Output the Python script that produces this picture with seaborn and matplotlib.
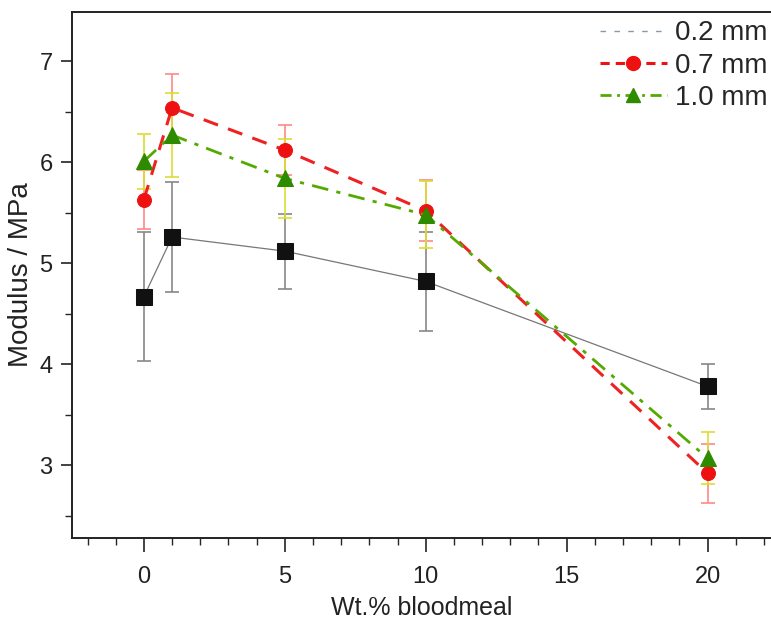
import numpy as np
import pandas as pd
import matplotlib
matplotlib.use("Agg")
import matplotlib.pyplot as plt
from matplotlib.lines import Line2D
from matplotlib.ticker import MultipleLocator
import seaborn as sns

wt = [0, 1, 5, 10, 20]
mod_02 = [4.67, 5.26, 5.12, 4.82, 3.78]
err_02 = [0.64, 0.54, 0.37, 0.49, 0.22]
mod_07 = [5.63, 6.54, 6.12, 5.52, 2.92]
err_07 = [0.29, 0.33, 0.25, 0.30, 0.29]
mod_10 = [6.01, 6.27, 5.84, 5.48, 3.07]
err_10 = [0.27, 0.42, 0.39, 0.33, 0.26]
labels = ["0.2 mm", "0.7 mm", "1.0 mm"]

sns.set_style("ticks")
plt.rcParams['font.family'] = ['Liberation Sans', 'DejaVu Sans']

fig = plt.figure(figsize=(7.71, 6.24), dpi=100)
ax = fig.add_axes([0.0934, 0.138, 0.9066, 0.843])

series = [
    (mod_02, err_02, "#111111", "#777777", "#888888", "s", "-", 0.9, 12),
    (mod_07, err_07, "#ee1111", "#ee2222", "#ff8888", "o", (0, (5, 3.5)), 2.2, 10),
    (mod_10, err_10, "#2e8b00", "#55aa00", "#dddd33", "^", (0, (6, 3, 1.5, 3)), 2.0, 11),
]

for (vals, errs, mcol, lcol, ecol, mk, ls, lw, ms), lab in zip(series, labels):
    ax.errorbar(wt, vals, yerr=errs, fmt="none", ecolor=ecol, elinewidth=1.2,
                capsize=5, capthick=1.2, zorder=2)
    df = pd.DataFrame({"wt": wt, "mod": vals})
    sns.lineplot(data=df, x="wt", y="mod", ax=ax, color=lcol, linestyle=ls,
                 linewidth=lw, marker=mk, markersize=ms, markerfacecolor=mcol,
                 markeredgecolor=mcol, zorder=3, legend=False)

ax.set_xlim(-2.55, 22.25)
ax.set_ylim(2.28, 7.49)
ax.xaxis.set_major_locator(MultipleLocator(5))
ax.xaxis.set_minor_locator(MultipleLocator(1))
ax.yaxis.set_major_locator(MultipleLocator(1))
ax.yaxis.set_minor_locator(MultipleLocator(0.5))
ax.tick_params(which="major", direction="out", length=8, width=1.2, labelsize=17, colors="#222222")
ax.tick_params(axis="x", which="major", length=10, pad=10)
ax.tick_params(axis="y", which="major", pad=6)
ax.tick_params(which="minor", direction="out", length=5, width=1.0)
ax.spines["right"].set_visible(False)
for s in ["left", "bottom", "top"]:
    ax.spines[s].set_linewidth(1.4)
    ax.spines[s].set_color("#222222")

ax.set_xlabel("Wt.% bloodmeal", fontsize=18, labelpad=6, color="#222222")
ax.set_ylabel("Modulus / MPa", fontsize=20, labelpad=4, color="#222222")

handles = [
    Line2D([], [], color="#8899aa", linestyle=(0, (4, 6)), linewidth=1.0),
    Line2D([], [], color="#ee1111", linestyle=(0, (3, 2)), linewidth=2.2, marker="o",
           markersize=10, markerfacecolor="#ee1111", markeredgecolor="#ee1111"),
    Line2D([], [], color="#55aa00", linestyle=(0, (4, 2, 1, 2)), linewidth=2.0, marker="^",
           markersize=10, markerfacecolor="#2e8b00", markeredgecolor="#2e8b00"),
]
ax.legend(handles, labels, loc="upper right", bbox_to_anchor=(1.01, 0.985),
          bbox_transform=fig.transFigure, frameon=False, fontsize=20,
          handlelength=2.4, handletextpad=0.3, labelspacing=0.22, borderaxespad=0)

fig.savefig("out.png", dpi=100)
